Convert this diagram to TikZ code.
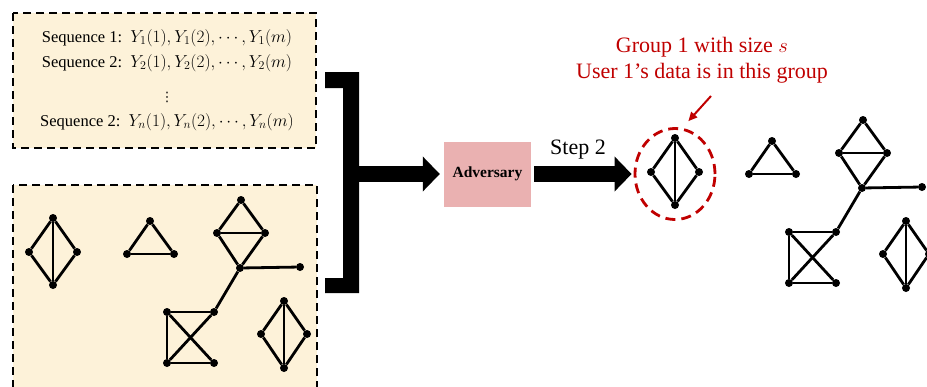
\documentclass[tikz,border=0pt]{standalone}
\usepackage{fontspec}
\setmainfont{Liberation Serif}
\newfontfamily\symfont{DejaVu Sans}
\usetikzlibrary{positioning,arrows.meta,shapes.geometric}
\definecolor{boxyellow}{RGB}{253,242,217}
\definecolor{advpink}{RGB}{234,177,177}
\definecolor{grpred}{RGB}{192,0,0}
\tikzset{
  dot/.style={fill,circle,inner sep=0pt,minimum size=8pt},
  edge/.style={line width=2.8pt},
  dashbox/.style={draw,fill=boxyellow,line width=2.8pt,dash pattern=on 8pt off 5pt},
  fat/.style={line width=16pt,-{Triangle[length=17pt,width=34pt]}},
  seqtext/.style={font=\fontsize{16.5}{20}\selectfont,inner sep=1pt},
  bigtext/.style={font=\fontsize{22}{26}\selectfont},
  advbox/.style={fill=advpink,minimum width=87pt,minimum height=65pt,font=\fontsize{15.5}{18}\selectfont\bfseries},
}
% one copy of the user graph, node names start with #1
\newcommand{\drawnet}[1]{%
  \foreach \nm/\xx/\yy in {a1/53/218,a2/29/252,a3/77/252,a4/53/285,
      b1/150/221,b2/127/254,b3/174/254,
      c1/241/200,c2/217/233,c3/265/233,c4/240/268,c5/300/267,
      d1/167/312,d2/214/312,d3/167/363,d4/214/363,
      e1/284/301,e2/261/334,e3/307/334,e4/284/368}
    \node[dot] (#1\nm) at (\xx,\yy) {};
  \foreach \u/\w in {a1/a2,a1/a3,a2/a4,a3/a4,a1/a4,
      b1/b2,b1/b3,b2/b3,
      c1/c2,c1/c3,c2/c3,c2/c4,c3/c4,c4/c5,c4/d2,
      d1/d2,d1/d3,d3/d4,d1/d4,d2/d3,
      e1/e2,e1/e3,e2/e4,e3/e4,e1/e4}
    \draw[edge] (#1\u) -- (#1\w);
}

\begin{document}
\begin{tikzpicture}[x=1pt,y=-1pt]
\useasboundingbox (0,0) rectangle (927,386);
\clip (0,0) rectangle (927,386);

% sequences
\draw[dashbox] (13,13) rectangle (316,148);
\node[seqtext] (seq1) at (167,38) {Sequence 1:\ \ $Y_1(1),Y_1(2),\cdots,Y_1(m)$};
\node[seqtext] (seq2) at (167,63) {Sequence 2:\ \ $Y_2(1),Y_2(2),\cdots,Y_2(m)$};
\node[seqtext,font=\fontsize{13}{13}\selectfont\symfont,inner sep=0pt] (seqdots) at (167,97) {⋮};
\node[seqtext] (seqn) at (167,122) {Sequence 2:\ \ $Y_n(1),Y_n(2),\cdots,Y_n(m)$};

% social graph
\draw[dashbox] (13,185) rectangle (317,395);
\drawnet{L}

% bracket
\fill (325,72) -- (359,72) -- (359,293) -- (325,293) -- (325,278) -- (343,278)
  -- (343,88) -- (325,88) -- cycle;
\coordinate (brk) at (359,174);

\node[advbox] (adv) at (487.5,174) {Adversary};
\draw[fat,shorten >=4pt] (brk) -- (adv);

% grouped graph
\begin{scope}[shift={(622,-80)}]
\drawnet{R}
\end{scope}
\node[ellipse,draw=grpred,line width=2.8pt,dash pattern=on 10pt off 6pt,
  minimum width=80pt,minimum height=91pt,inner sep=0pt] (grp) at (675,174) {};
\draw[fat,shorten <=3pt,shorten >=2pt] (adv.east) -- (grp.west);
\node[bigtext] (steplbl) at (578,150) {Step 2};

\node[bigtext,text=grpred,align=center] (grplabel) at (702,60)
  {Group 1 with size $s$\\User 1's data is in this group};
\coordinate (ptr) at (711,96);
\draw[grpred,line width=2pt,-{Triangle[length=9pt,width=8pt]},shorten >=9pt] (ptr) -- (grp.81);
\end{tikzpicture}
\end{document}
